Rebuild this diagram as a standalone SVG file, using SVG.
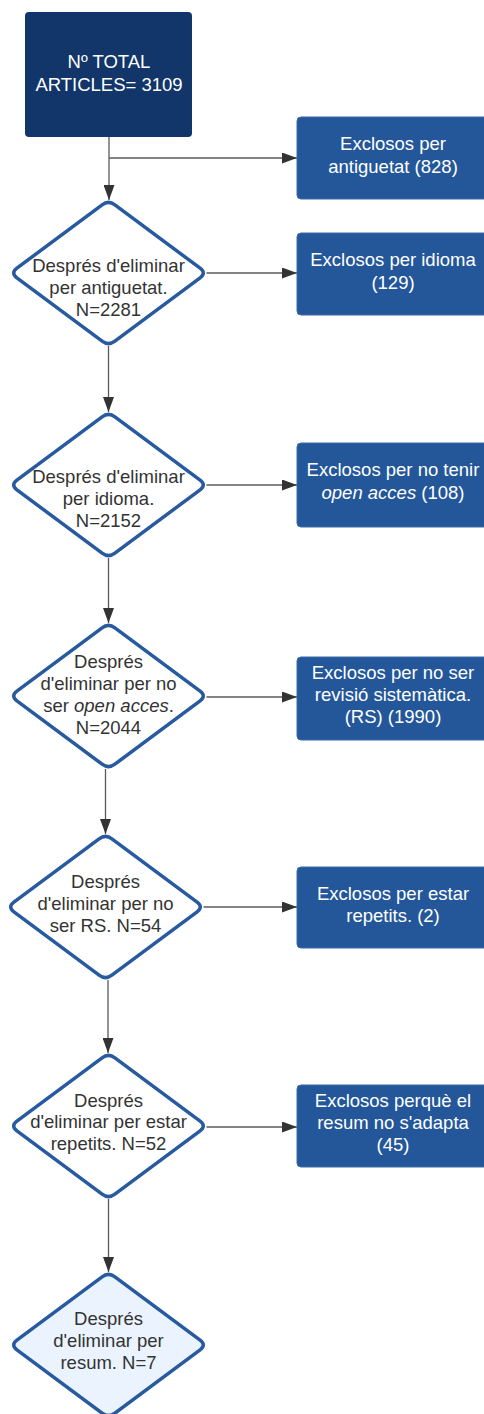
<svg xmlns="http://www.w3.org/2000/svg" width="484" height="1414" viewBox="0 0 484 1414">
<style>
text{font-family:"Liberation Sans",Arial,sans-serif;font-size:18.5px;text-anchor:middle}
.wt{fill:#ffffff}
.dt{fill:#333333}
.box{fill:#23579a;stroke:#3b6cab;stroke-width:1}
.top{fill:#12366a}
.dia{fill:#ffffff;stroke:#275a9e;stroke-width:3.5;stroke-linejoin:round}
.fin{fill:#eaf3fe}
.con{fill:none;stroke:#5a5a5a;stroke-width:1.3}
</style>
<defs>
<marker id="ah" markerUnits="userSpaceOnUse" markerWidth="15" markerHeight="11" refX="15" refY="5.5" orient="auto">
<path d="M0,0 L15,5.5 L0,11 Z" fill="#333333"/>
</marker>
<path id="dshape" d="M -6.4,-68.2 Q 0,-73 6.4,-68.2 L 91.6,-4.8 Q 98,0 91.6,4.8 L 6.4,68.2 Q 0,73 -6.4,68.2 L -91.6,4.8 Q -98,0 -91.6,-4.8 Z"/>
</defs>

<g id="connectors">
<line class="con" x1="109" y1="137" x2="109" y2="200" marker-end="url(#ah)"/>
<line class="con" x1="109" y1="158" x2="297" y2="158" marker-end="url(#ah)"/>
<line class="con" x1="206.5" y1="273" x2="297" y2="273" marker-end="url(#ah)"/>
<line class="con" x1="108.5" y1="346" x2="108.5" y2="412" marker-end="url(#ah)"/>
<line class="con" x1="206.5" y1="485" x2="297" y2="485" marker-end="url(#ah)"/>
<line class="con" x1="108.5" y1="558" x2="108.5" y2="623" marker-end="url(#ah)"/>
<line class="con" x1="206.5" y1="697" x2="297" y2="697" marker-end="url(#ah)"/>
<line class="con" x1="105.5" y1="769" x2="105.5" y2="834" marker-end="url(#ah)"/>
<line class="con" x1="203.5" y1="907" x2="297" y2="907" marker-end="url(#ah)"/>
<line class="con" x1="108" y1="980" x2="108" y2="1053" marker-end="url(#ah)"/>
<line class="con" x1="206.5" y1="1127" x2="297" y2="1127" marker-end="url(#ah)"/>
<line class="con" x1="108.5" y1="1199" x2="108.5" y2="1272" marker-end="url(#ah)"/>
</g>

<g id="total">
<rect class="top" x="25" y="12" width="167" height="125" rx="4"/>
<text class="wt" x="109" y="68">Nº TOTAL</text>
<text class="wt" x="109" y="91">ARTICLES= 3109</text>
</g>

<g id="excl-antiguetat">
<rect class="box" x="297" y="117" width="194" height="82" rx="4"/>
<text class="wt" x="393" y="150">Exclosos per</text>
<text class="wt" x="393" y="173">antiguetat (828)</text>
</g>

<g id="d-antiguetat" transform="translate(108.5,273)">
<use href="#dshape" class="dia"/>
<text class="dt" x="0" y="-1">Després d'eliminar</text>
<text class="dt" x="0" y="21">per antiguetat.</text>
<text class="dt" x="0" y="43">N=2281</text>
</g>

<g id="excl-idioma">
<rect class="box" x="297" y="233" width="194" height="82" rx="4"/>
<text class="wt" x="393" y="266">Exclosos per idioma</text>
<text class="wt" x="393" y="289">(129)</text>
</g>

<g id="d-idioma" transform="translate(108.5,485)">
<use href="#dshape" class="dia"/>
<text class="dt" x="0" y="-2">Després d'eliminar</text>
<text class="dt" x="0" y="20">per idioma.</text>
<text class="dt" x="0" y="42">N=2152</text>
</g>

<g id="excl-open">
<rect class="box" x="297" y="443" width="194" height="84" rx="4"/>
<text class="wt" x="393" y="476">Exclosos per no tenir</text>
<text class="wt" x="393" y="499"><tspan font-style="italic">open acces</tspan> (108)</text>
</g>

<g id="d-open" transform="translate(108.5,696)">
<use href="#dshape" class="dia"/>
<text class="dt" x="0" y="-28">Després</text>
<text class="dt" x="0" y="-6">d'eliminar per no</text>
<text class="dt" x="0" y="16">ser <tspan font-style="italic">open acces</tspan>.</text>
<text class="dt" x="0" y="38">N=2044</text>
</g>

<g id="excl-rs">
<rect class="box" x="297" y="657" width="194" height="83" rx="4"/>
<text class="wt" x="393" y="679">Exclosos per no ser</text>
<text class="wt" x="393" y="701">revisió sistemàtica.</text>
<text class="wt" x="393" y="723">(RS) (1990)</text>
</g>

<g id="d-rs" transform="translate(105.5,907)">
<use href="#dshape" class="dia"/>
<text class="dt" x="0" y="-19">Després</text>
<text class="dt" x="0" y="3">d'eliminar per no</text>
<text class="dt" x="0" y="25">ser RS. N=54</text>
</g>

<g id="excl-repetits">
<rect class="box" x="297" y="867" width="194" height="81" rx="4"/>
<text class="wt" x="393" y="900">Exclosos per estar</text>
<text class="wt" x="393" y="922">repetits. (2)</text>
</g>

<g id="d-repetits" transform="translate(108.5,1126)">
<use href="#dshape" class="dia"/>
<text class="dt" x="0" y="-19">Després</text>
<text class="dt" x="0" y="2">d'eliminar per estar</text>
<text class="dt" x="0" y="24">repetits. N=52</text>
</g>

<g id="excl-resum">
<rect class="box" x="297" y="1085" width="194" height="82" rx="4"/>
<text class="wt" x="393" y="1107">Exclosos perquè el</text>
<text class="wt" x="393" y="1129">resum no s'adapta</text>
<text class="wt" x="393" y="1151">(45)</text>
</g>

<g id="d-resum" transform="translate(108.5,1345)">
<use href="#dshape" class="dia fin"/>
<text class="dt" x="0" y="-20">Després</text>
<text class="dt" x="0" y="2">d'eliminar per</text>
<text class="dt" x="0" y="24">resum. N=7</text>
</g>
</svg>
